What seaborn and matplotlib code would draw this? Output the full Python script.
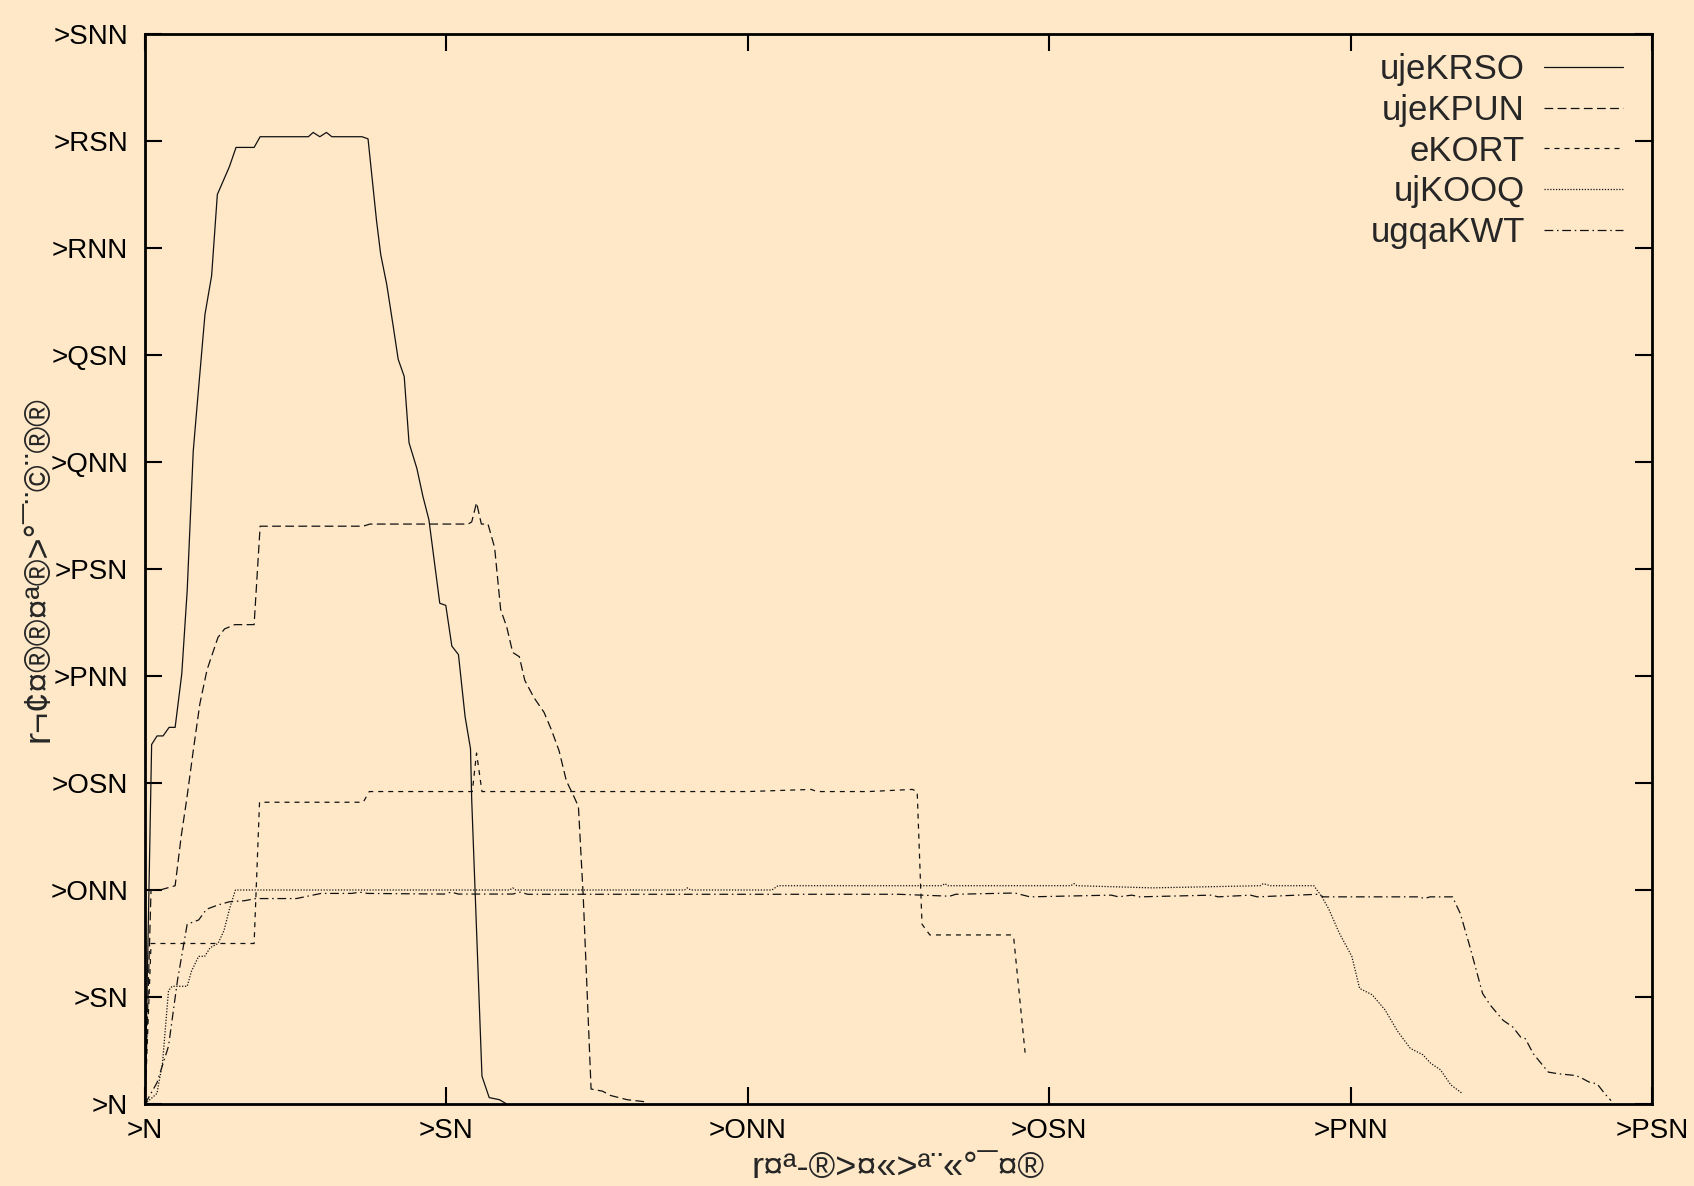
import matplotlib
matplotlib.use("Agg")
import matplotlib.pyplot as plt
import seaborn as sns
import pandas as pd

# ---------------- data ----------------
series_names = ["ujeKRSO", "ujeKPUN", "eKORT", "ujKOOQ", "ugqaKWT"]

x_ujeKRSO = [0, 1.1, 2.0, 3.0, 4.0, 5.0, 6.1, 7.0, 8.0, 8.6, 9.95, 11.05, 12.0, 14.0, 15.1, 18.1, 19.1,
             27.1, 27.9, 29.0, 30.1, 31.0, 36.0, 37.0, 38.4, 39.1, 40.1, 41.2, 42.0, 43.0, 43.8, 45.1,
             46.1, 47.1, 48.9, 49.9, 50.9, 52.0, 53.1, 54.0, 54.2, 55.9, 57.1, 58.8, 60.0]
y_ujeKRSO = [0, 168, 172, 172, 176, 176, 201, 240, 305, 325, 369, 387, 425, 438, 447, 447, 452,
             452, 454, 452, 454, 452, 452, 451, 413, 397, 383, 363, 348, 340, 309, 297,
             284, 273, 234, 233, 214, 210, 181, 166, 142, 13, 3, 2, 0]

x_ujeKPUN = [0, 1.0, 2.5, 5.0, 6.0, 6.9, 8.0, 9.1, 10.3, 12.1, 13.2, 14.9, 18.1, 19.1, 36.2, 37.3,
             53.6, 54.2, 55.0, 55.8, 56.9, 58.0, 59.0, 60.0, 61.0, 62.1, 63.0, 64.5, 66.2, 67.4,
             68.7, 69.9, 71.1, 71.9, 72.7, 74.0, 75.9, 77.2, 80.0, 83.1]
y_ujeKPUN = [0, 100, 100, 102, 125, 142, 165, 187, 203, 218, 222, 224, 224, 270, 270, 271,
             271, 272, 281, 271, 271, 260, 231, 223, 211, 209, 198, 190, 183, 175,
             165, 151, 144, 139, 97, 7, 6, 4, 2, 1]

x_eKORT = [0, 1.0, 18.1, 19.0, 36.2, 37.2, 54.3, 55.0, 55.9, 80, 100, 110.5, 111.5, 120,
           127.3, 128.1, 128.9, 130.2, 143.6, 144.1, 146.0]
y_eKORT = [0, 75, 75, 141, 141, 146, 146, 164, 146, 146, 146, 147, 146, 146,
           147, 146, 84, 79, 79, 78, 24]

x_ujKOOQ = [0, 2.0, 2.3, 2.9, 3.9, 4.5, 7.0, 7.7, 8.9, 9.9, 10.8, 12.1, 13.1, 14.0, 15.0, 40,
            60.5, 61.0, 61.5, 89.5, 90.0, 90.5, 104, 105, 125, 132.2, 132.7, 133.2, 153.6,
            154.1, 154.6, 167.1, 185, 185.5, 186.7, 193.9, 195.2, 196.4, 198.1, 200.2, 201.5,
            203.6, 205.7, 207.8, 209.9, 212.0, 213.3, 214.9, 216.6, 218.5]
y_ujKOOQ = [0, 5, 10, 19, 53, 55, 55, 62, 69, 69, 73, 75, 81, 91, 100, 100,
            100, 101, 100, 100, 101, 100, 100, 102, 102, 102, 103, 102, 102,
            103, 102, 101, 102, 103, 102, 102, 97, 91, 80, 69, 54,
            51, 44, 34, 26, 23, 19, 16, 9, 5]

x_ugqaKWT = [0, 2.0, 3.9, 5.4, 7.0, 8.9, 10.2, 12.1, 14.0, 16.5, 18.4, 25.1, 29.2, 34.3, 35.6,
             36.9, 49.6, 50.8, 52.0, 61.0, 62.2, 63.5, 125, 133.5, 134.5, 144.3, 146.8, 160.3,
             161.5, 163.7, 165, 177, 178, 183.4, 184.5, 194.5, 195.5, 211.4, 212.2, 213.2,
             216.9, 218.2, 219.8, 221.9, 223.2, 225.3, 226.9, 228.2, 229.0, 230.3, 232.8,
             234.5, 237.4, 238.4, 239.6, 240.9, 242.2, 243.2]
y_ugqaKWT = [0, 10, 27, 58, 84, 86, 91, 93, 94.5, 95, 96, 96, 98.4, 98.4, 99,
             98.4, 98.1, 99, 98.1, 98.1, 99, 98, 98, 97.1, 98, 98.6, 96.8, 97.6,
             96.8, 97.6, 96.8, 97.6, 96.8, 97.6, 96.8, 98, 96.8, 96.8, 96, 96.8,
             96.8, 89, 73.4, 51.6, 46.1, 39.1, 36, 31.3, 30.5, 23.5, 14.9,
             14.1, 13.3, 12, 10.2, 9.4, 4.7, 1.6]

x_ticks = [0, 50, 100, 150, 200, 250]
x_tick_labels = [">N", ">SN", ">ONN", ">OSN", ">PNN", ">PSN"]
y_ticks = [0, 50, 100, 150, 200, 250, 300, 350, 400, 450, 500]
y_tick_labels = [">N", ">SN", ">ONN", ">OSN", ">PNN", ">PSN", ">QNN", ">QSN", ">RNN", ">RSN", ">SNN"]
x_label = "r¤ª-®>¤«>ª¨«°¯¤®"
y_label = "r¬¢¤®®¤ª®>°¯¨©¨®®"

# ---------------- style ----------------
sns.set_style("ticks")
plt.rcParams['font.family'] = ['Liberation Sans', 'DejaVu Sans']
bg = "#FFE8C8"

fig = plt.figure(figsize=(16.94, 11.86), dpi=100, facecolor=bg)
ax = fig.add_axes([145 / 1694, 1 - 1104 / 1186, 1507 / 1694, 1070 / 1186])
ax.set_facecolor(bg)

xs_all = [x_ujeKRSO, x_ujeKPUN, x_eKORT, x_ujKOOQ, x_ugqaKWT]
ys_all = [y_ujeKRSO, y_ujeKPUN, y_eKORT, y_ujKOOQ, y_ugqaKWT]
styles = ['-', (0, (7, 3.5)), (0, (4, 4)), (0, (1, 1.3)), (0, (7, 3, 1.2, 3))]

for name, xs, ys, ls in zip(series_names, xs_all, ys_all, styles):
    df = pd.DataFrame({"x": xs, "y": ys})
    sns.lineplot(data=df, x="x", y="y", ax=ax, color="#111111", linewidth=0.9,
                 linestyle=ls, label=name, estimator=None, sort=False)

ax.set_xlim(0, 250)
ax.set_ylim(0, 500)
ax.set_xticks(x_ticks)
ax.set_xticklabels(x_tick_labels)
ax.set_yticks(y_ticks)
ax.set_yticklabels(y_tick_labels)
ax.tick_params(direction='in', length=12, width=1.5, top=True, right=True,
               labelsize=20, colors='black')
ax.tick_params(axis='y', pad=12)
ax.tick_params(axis='x', pad=10)
for s in ax.spines.values():
    s.set_linewidth(2)
    s.set_color('black')

ax.set_xlabel(x_label, fontsize=26, labelpad=5)
ax.set_ylabel(y_label, fontsize=26, labelpad=-4)

leg = ax.legend(loc='upper right', bbox_to_anchor=(0.981, 0.982), frameon=False,
                markerfirst=False, fontsize=25, handlelength=2.3, handletextpad=0.53,
                labelspacing=0.22, borderpad=0, borderaxespad=0)
for line in leg.get_lines():
    line.set_linewidth(0.9)

fig.savefig("out.png", dpi=100, facecolor=bg)
